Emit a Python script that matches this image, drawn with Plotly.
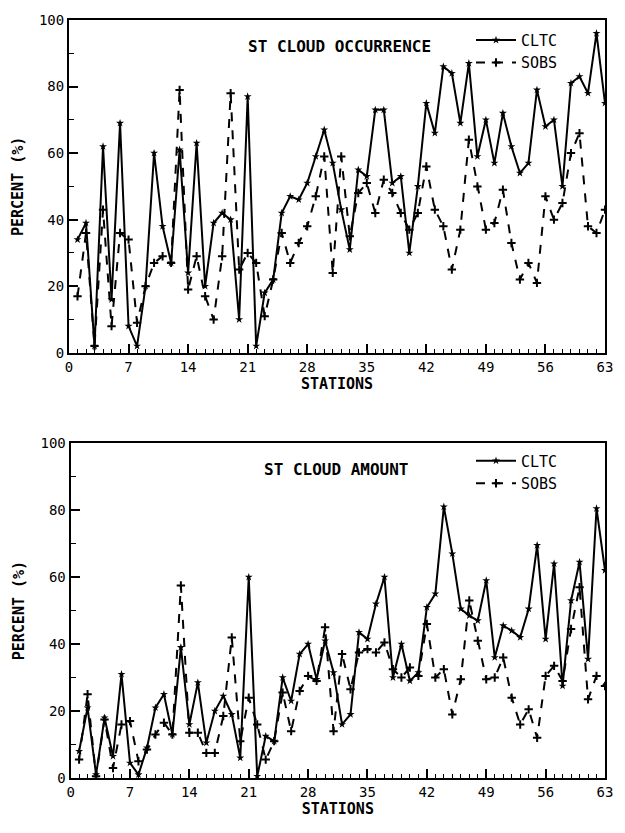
import plotly.graph_objects as go
from plotly.subplots import make_subplots

stations = list(range(1, 64))

occ_cltc = [34, 39, 2, 62, 16, 69, 8, 2, 20, 60, 38, 27, 61, 24, 63, 20, 39, 42, 40, 10,
            77, 2, 18, 22, 42, 47, 46, 51, 59, 67, 57, 43, 31, 55, 53, 73, 73, 51, 53, 30,
            50, 75, 66, 86, 84, 69, 87, 59, 70, 57, 72, 62, 54, 57, 79, 68, 70, 50, 81, 83,
            78, 96, 75]
occ_sobs = [17, 36, 2, 43, 8, 36, 34, 9, 20, 27, 29, 27, 79, 19, 29, 17, 10, 29, 78, 25,
            30, 27, 11, 22, 36, 27, 33, 38, 47, 59, 24, 59, 35, 48, 51, 42, 52, 48, 42, 37,
            42, 56, 43, 38, 25, 37, 64, 50, 37, 39, 49, 33, 22, 27, 21, 47, 40, 45, 60, 66,
            38, 36, 43]
amt_cltc = [8, 21, 1, 18, 6.5, 31, 4.5, 1, 9, 21, 25, 13, 39, 16, 28.5, 10.5, 20, 24.5, 19, 6,
            60, 0.5, 12.5, 11, 30, 23, 37, 40, 29.5, 41, 31.5, 16, 19, 43.5, 41.5, 52, 60, 30, 40, 29,
            31.5, 51, 55, 81, 67, 50.5, 48.5, 47, 59, 36, 45.5, 44, 42, 50.5, 69.5, 41.5, 64, 27.5, 53, 64.5,
            35.5, 80.5, 62]
amt_sobs = [5.5, 25, 0.5, 17.5, 3, 16, 17, 5, 8.5, 13, 16.5, 13, 57.5, 13.5, 13.5, 7.5, 7.5, 18.5, 42, 11,
            24, 16, 5.5, 11, 25.5, 14, 26, 30.5, 29, 45, 14, 37, 26.5, 37.5, 38.5, 37.5, 40.5, 32.5, 30, 33,
            30.5, 46, 30, 32.5, 19, 29.5, 53, 41, 29.5, 30, 36, 24, 16, 20.5, 12, 30.5, 33.5, 29, 44.5, 57,
            23.5, 30.5, 27.5]

x_ticks = [0, 7, 14, 21, 28, 35, 42, 49, 56, 63]
y_ticks = [0, 20, 40, 60, 80, 100]
titles = ["ST CLOUD OCCURRENCE", "ST CLOUD AMOUNT"]
series_names = ["CLTC", "SOBS"]

FONT = "DejaVu Sans Mono"
fig = make_subplots(rows=2, cols=1)

panels = [(occ_cltc, occ_sobs, "legend"), (amt_cltc, amt_sobs, "legend2")]
for i, (c, s, lg) in enumerate(panels, start=1):
    fig.add_trace(go.Scatter(x=stations, y=c, mode="lines+markers", name=series_names[0],
                             line=dict(color="black", width=2),
                             marker=dict(symbol="star", size=6, color="black"),
                             legend=lg), row=i, col=1)
    fig.add_trace(go.Scatter(x=stations, y=s, mode="lines+markers", name=series_names[1],
                             line=dict(color="black", width=2, dash="dash"),
                             marker=dict(symbol="cross-thin", size=6,
                                         line=dict(color="black", width=2)),
                             legend=lg), row=i, col=1)

tick_font = dict(family=FONT, size=14, color="black")
title_font = dict(family=FONT, size=15, color="black")
for i in (1, 2):
    fig.update_xaxes(range=[0, 63], tickvals=x_ticks, ticks="inside", ticklen=9, tickwidth=1.5,
                     minor=dict(dtick=1, ticks="inside", ticklen=4, tickwidth=1, tickcolor="black"),
                     showline=True, linecolor="black", linewidth=2, mirror=True,
                     showgrid=False, zeroline=False, tickfont=tick_font, tickcolor="black",
                     title=dict(text="<b>STATIONS</b>", font=title_font, standoff=4),
                     row=i, col=1)
    fig.update_yaxes(range=[0, 100], tickvals=y_ticks, ticks="inside", ticklen=9, tickwidth=1.5,
                     minor=dict(dtick=10, ticks="inside", ticklen=5, tickwidth=1, tickcolor="black"),
                     showline=True, linecolor="black", linewidth=2, mirror=True,
                     showgrid=False, zeroline=False, tickfont=tick_font, tickcolor="black",
                     title=dict(text="<b>PERCENT (%)</b>", font=title_font, standoff=12),
                     row=i, col=1)

fig.update_layout(
    xaxis=dict(domain=[0, 1]), xaxis2=dict(domain=[0.003, 1.0]),
    yaxis=dict(domain=[0.561, 1.0]), yaxis2=dict(domain=[0.0, 0.4417]),
)

fig.add_annotation(text="<b>" + titles[0] + "</b>", xref="x domain", yref="y domain",
                   x=0.505, y=0.955, showarrow=False, font=dict(family=FONT, size=16, color="black"))
fig.add_annotation(text="<b>" + titles[1] + "</b>", xref="x2 domain", yref="y2 domain",
                   x=0.497, y=0.955, showarrow=False, font=dict(family=FONT, size=16, color="black"))

leg_font = dict(family=FONT, size=15, color="black")
fig.update_layout(
    width=625, height=833,
    margin=dict(l=69, r=12, t=15, b=55),
    paper_bgcolor="white", plot_bgcolor="white",
    font=dict(family=FONT, color="black"),
    legend=dict(x=0.75, y=0.995, xanchor="left", yanchor="top", font=leg_font,
                bgcolor="rgba(0,0,0,0)", itemwidth=40, tracegroupgap=2),
    legend2=dict(x=0.75, y=0.44, xanchor="left", yanchor="top", font=leg_font,
                 bgcolor="rgba(0,0,0,0)", itemwidth=40, tracegroupgap=2),
)

fig.write_html("out.html")
